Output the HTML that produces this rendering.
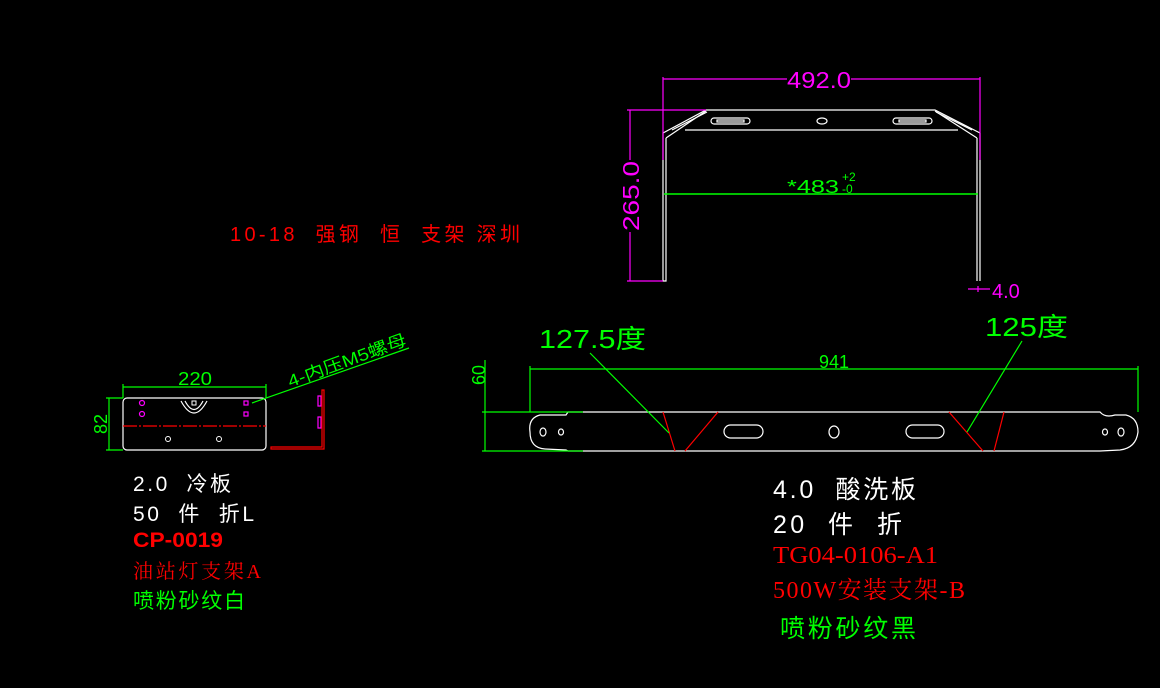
<!DOCTYPE html>
<html><head><meta charset="utf-8"><style>
html,body{margin:0;padding:0;background:#000;width:1160px;height:688px;overflow:hidden}
svg{display:block}
text{font-family:"Liberation Sans","Noto Sans CJK SC",sans-serif}
.s{font-family:"Liberation Serif","Noto Serif CJK SC",serif}
</style></head><body>
<svg width="1160" height="688" viewBox="0 0 1160 688" xmlns="http://www.w3.org/2000/svg">
<rect width="1160" height="688" fill="#000"/>
<g stroke="#fff" fill="none" stroke-width="1.2">
<path d="M663,133 L706,110 L935,110 L980,133"/>
<path d="M666,138 L706,111 M977,138 L935,111"/>
<path d="M672,130 L707,112 M972,130 L936,112"/>
<path d="M685,130 L958,130"/>
<path d="M663,133 L663,281 L666,281 L666,138"/>
<path d="M980,133 L980,281 M977,138 L977,281"/>
<rect x="711" y="118" width="39" height="6" rx="3"/>
<rect x="717" y="120" width="27" height="2"/>
<ellipse cx="822" cy="121" rx="5" ry="3"/>
<rect x="893" y="118" width="39" height="6" rx="3"/>
<rect x="899" y="120" width="27" height="2"/>
</g>
<g stroke="#f0f" stroke-width="1.2" fill="none">
<path d="M663,79 L787,79 M851,79 L980,79 M663,77 L663,160 M980,77 L980,160"/>
<path d="M630,110 L630,160 M630,232 L630,281 M627,110 L706,110 M627,281 L663,281"/>
<path d="M968,289 L990,289 M978,286 L978,292"/>
</g>
<text x="819" y="88" fill="#f0f" font-size="23" text-anchor="middle" textLength="64" lengthAdjust="spacingAndGlyphs">492.0</text>
<text transform="translate(639,196) rotate(-90)" fill="#f0f" font-size="23" text-anchor="middle" textLength="70" lengthAdjust="spacingAndGlyphs">265.0</text>
<text x="992" y="298" fill="#f0f" font-size="20">4.0</text>
<line x1="664" y1="194" x2="978" y2="194" stroke="#0f0" stroke-width="1.5"/>
<text x="787" y="193" fill="#0f0" font-size="18" textLength="52" lengthAdjust="spacingAndGlyphs">*483</text>
<text x="842" y="181" fill="#0f0" font-size="12">+2</text>
<text x="842" y="193" fill="#0f0" font-size="12">-0</text>
<text x="230" y="241" fill="#f00" font-size="20" xml:space="preserve" textLength="290" lengthAdjust="spacing">10-18  强钢  恒  支架 深圳</text>
<!-- left part -->
<rect x="123" y="398" width="143" height="52" rx="4" stroke="#fff" fill="none" stroke-width="1.2"/>
<line x1="123" y1="426" x2="266" y2="426" stroke="#f00" stroke-width="1.2" stroke-dasharray="14,2,2,2"/>
<path d="M181,401 Q194,425 207,401 M185,401 Q194,418 203,401" stroke="#fff" fill="none" stroke-width="1.2"/>
<rect x="192" y="401" width="4" height="4" stroke="#fff" fill="none"/>
<g stroke="#f0f" fill="none" stroke-width="1.2">
<circle cx="142" cy="403" r="2.5"/><circle cx="142" cy="414" r="2.5"/>
<rect x="244" y="401" width="4" height="4"/><rect x="244" y="412" width="4" height="4"/>
<path d="M318,396 L321,396 L321,406 L318,406 Z M318,417 L321,417 L321,428 L318,428 Z"/>
</g>
<g stroke="#fff" fill="none"><circle cx="168" cy="439" r="2.5"/><circle cx="219" cy="439" r="2.5"/></g>
<g stroke="#f00" fill="none" stroke-width="1.2">
<path d="M322,390 L324,390 L324,449 L271,449 L271,447 L322,447 Z"/>
</g>
<g stroke="#0f0" fill="none" stroke-width="1.2">
<path d="M123,387 L266,387 M123,384 L123,398 M266,384 L266,398"/>
<path d="M109,398 L109,450 M106,398 L123,398 M106,450 L123,450"/>
<path d="M252,403 L409,348"/>
</g>
<text x="195" y="385" fill="#0f0" font-size="18" text-anchor="middle" textLength="34" lengthAdjust="spacingAndGlyphs">220</text>
<text transform="translate(107,424) rotate(-90)" fill="#0f0" font-size="18" text-anchor="middle">82</text>
<text transform="translate(349,366) rotate(-20)" fill="#0f0" font-size="17" text-anchor="middle" textLength="125" lengthAdjust="spacingAndGlyphs">4-内压M5螺母</text>
<text x="133" y="491" fill="#fff" font-size="21" xml:space="preserve" textLength="98" lengthAdjust="spacing">2.0  冷板</text>
<text x="133" y="521" fill="#fff" font-size="21" xml:space="preserve" textLength="121" lengthAdjust="spacing">50  件  折L</text>
<text x="133" y="547" fill="#f00" font-size="21" font-weight="bold" textLength="90" lengthAdjust="spacingAndGlyphs">CP-0019</text>
<text x="133" y="578" fill="#f00" font-size="20" class="s" textLength="128" lengthAdjust="spacing">油站灯支架A</text>
<text x="133" y="608" fill="#0f0" font-size="21" textLength="112" lengthAdjust="spacing">喷粉砂纹白</text>
<!-- bottom right strip -->
<g stroke="#fff" fill="none" stroke-width="1.2">
<path d="M583,412 L1100,412 Q1105,418 1115,415 L1126,415 Q1138,418 1138,432 Q1136,448 1120,450 L1100,451 L583,451 M568,412 L566,415 L540,415 Q528,418 530,432 Q530,448 545,449 L566,450 L568,451 L583,451 M568,412 L583,412"/>
<ellipse cx="543" cy="432" rx="3" ry="4"/><ellipse cx="561" cy="432" rx="2.5" ry="3"/>
<ellipse cx="1105" cy="432" rx="2.5" ry="3"/><ellipse cx="1121" cy="432" rx="3" ry="4"/>
<rect x="724" y="425" width="39" height="13" rx="6.5"/>
<ellipse cx="834" cy="432" rx="5" ry="6"/>
<rect x="906" y="425" width="38" height="13" rx="6.5"/>
</g>
<g stroke="#f00" stroke-width="1.2">
<line x1="663" y1="412" x2="675" y2="451"/><line x1="718" y1="412" x2="685" y2="451"/>
<line x1="949" y1="412" x2="983" y2="451"/><line x1="1004" y1="412" x2="994" y2="451"/>
</g>
<g stroke="#0f0" stroke-width="1.2" fill="none">
<path d="M530,369 L1138,369 M530,366 L530,412 M1138,366 L1138,412"/>
<path d="M485,360 L485,451 M482,412 L583,412 M482,451 L583,451"/>
<path d="M590,353 L669,433 M1022,341 L967,432"/>
</g>
<text x="834" y="368" fill="#0f0" font-size="18" text-anchor="middle">941</text>
<text transform="translate(485,375) rotate(-90)" fill="#0f0" font-size="18" text-anchor="middle">60</text>
<text x="539" y="348" fill="#0f0" font-size="26" textLength="107" lengthAdjust="spacingAndGlyphs">127.5度</text>
<text x="985" y="336" fill="#0f0" font-size="26" textLength="83" lengthAdjust="spacingAndGlyphs">125度</text>
<text x="773" y="498" fill="#fff" font-size="25" xml:space="preserve" textLength="143" lengthAdjust="spacing">4.0  酸洗板</text>
<text x="773" y="533" fill="#fff" font-size="25" xml:space="preserve" textLength="129" lengthAdjust="spacing">20  件  折</text>
<text x="773" y="563" fill="#f00" font-size="24" class="s" textLength="165" lengthAdjust="spacingAndGlyphs">TG04-0106-A1</text>
<text x="773" y="598" fill="#f00" font-size="24" class="s" textLength="192" lengthAdjust="spacing">500W安装支架-B</text>
<text x="780" y="637" fill="#0f0" font-size="25" textLength="136" lengthAdjust="spacing">喷粉砂纹黑</text>
</svg>
</body></html>
